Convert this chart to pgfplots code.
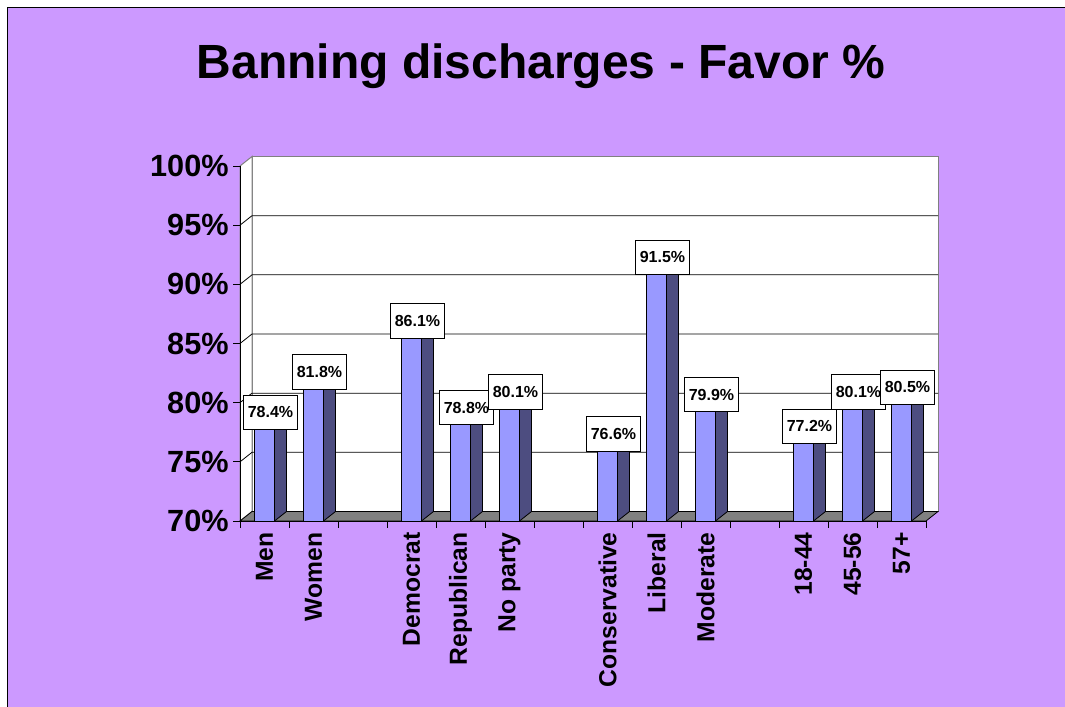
\documentclass[border=0pt]{standalone}
\usepackage{pgfplots}
\pgfplotsset{compat=1.18}
\usepackage{fontspec}
\setmainfont{Liberation Sans}
\definecolor{bg}{HTML}{CC99FF}
\definecolor{barfront}{HTML}{9999FF}
\definecolor{barside}{HTML}{4D4D80}
\definecolor{bartop}{HTML}{7373BF}
\definecolor{floorc}{HTML}{808080}
\definecolor{wallgray}{HTML}{808080}
\pgfdeclareplotmark{bar3d}{%
  \pgfmathsetlengthmacro\barh{(\barval-70)*8.875pt}%
  \pgfpathrectanglecorners{\pgfpoint{-7.5pt}{-\barh}}{\pgfpoint{7.5pt}{0pt}}%
  \pgfsetfillcolor{barfront}\pgfusepath{fill,stroke}%
  \pgfpathmoveto{\pgfpoint{7.5pt}{-\barh}}%
  \pgfpathlineto{\pgfpoint{16.5pt}{7.125pt-\barh}}%
  \pgfpathlineto{\pgfpoint{16.5pt}{7.125pt}}%
  \pgfpathlineto{\pgfpoint{7.5pt}{0pt}}%
  \pgfpathclose
  \pgfsetfillcolor{barside}\pgfusepath{fill,stroke}%
  \pgfpathmoveto{\pgfpoint{-7.5pt}{0pt}}%
  \pgfpathlineto{\pgfpoint{7.5pt}{0pt}}%
  \pgfpathlineto{\pgfpoint{16.5pt}{7.125pt}}%
  \pgfpathlineto{\pgfpoint{1.5pt}{7.125pt}}%
  \pgfpathclose
  \pgfsetfillcolor{bartop}\pgfusepath{fill,stroke}%
}
\pgfplotstableread{
x v
0.5 78.4
1.5 81.8
3.5 86.1
4.5 78.8
5.5 80.1
7.5 76.6
8.5 91.5
9.5 79.9
11.5 77.2
12.5 80.1
13.5 80.5
}\favor
\begin{document}
\begin{tikzpicture}
\path[use as bounding box] (0,0) rectangle (798.75pt,-530.25pt);
\fill[white] (0,0) rectangle (798.75pt,-530.25pt);
\fill[bg] (5.25pt,-5.25pt) rectangle (798.75pt,-530.25pt);
\draw[black, line width=0.75pt] (798.75pt,-5.25pt) -- (5.25pt,-5.25pt) -- (5.25pt,-530.25pt);
\node[anchor=base, font=\bfseries\fontsize{36}{40}\selectfont] at (405.75pt,-58.5pt) {Banning discharges - Favor \%};
% back wall
\filldraw[fill=white, draw=wallgray, line width=0.75pt] (189pt,-383.625pt) rectangle (703.5pt,-117.375pt);
% side wall
\filldraw[fill=white, draw=wallgray, line width=0.75pt] (180pt,-390.75pt) -- (189pt,-383.625pt) -- (189pt,-117.375pt) -- (180pt,-124.5pt) -- cycle;
\foreach \k in {1,...,5} {
  \draw[black, line width=0.6pt] (180pt,{-390.75pt+44.375pt*\k}) -- ++(9pt,7.125pt) -- (703.5pt,{-383.625pt+44.375pt*\k});
}
% floor
\filldraw[fill=floorc, draw=black, line width=0.6pt] (180pt,-390.75pt) -- (694.5pt,-390.75pt) -- (703.5pt,-383.625pt) -- (189pt,-383.625pt) -- cycle;
\begin{axis}[
  at={(180pt,-390.75pt)}, anchor=south west,
  scale only axis, width=514.5pt, height=266.25pt,
  xmin=0, xmax=14, ymin=70, ymax=100,
  clip=false,
  axis x line*=bottom, axis y line*=left,
  axis line style={black, line width=0.75pt},
  tick style={black, line width=0.75pt},
  tick align=outside, major tick length=5pt,
  xtick={0,...,14}, x tick label as interval,
  xticklabels={Men,Women,,Democrat,Republican,No party,,Conservative,Liberal,Moderate,,18-44,45-56,57+},
  xticklabel style={rotate=90, anchor=east, font=\bfseries\fontsize{18.5}{21}\selectfont},
  ytick={70,75,...,100},
  yticklabel={\pgfmathprintnumber{\tick}\%},
  yticklabel style={font=\bfseries\fontsize{23}{26}\selectfont},
  /pgf/number format/assume math mode=true,
]
\addplot[only marks, mark=bar3d, black, line width=0.6pt,
  visualization depends on={rawy \as \barval},
  point meta=rawy,
  nodes near coords={\pgfmathprintnumber[fixed,fixed zerofill,precision=1]{\pgfplotspointmeta}\%},
  every node near coord/.append style={anchor=center, xshift=4.5pt, yshift=7pt, draw=black, fill=white, line width=0.6pt, font=\bfseries\fontsize{12}{14}\selectfont, inner xsep=3.5pt, inner ysep=0pt, minimum height=26pt},
] table[x=x, y=v] {\favor};
\end{axis}
\end{tikzpicture}
\end{document}
